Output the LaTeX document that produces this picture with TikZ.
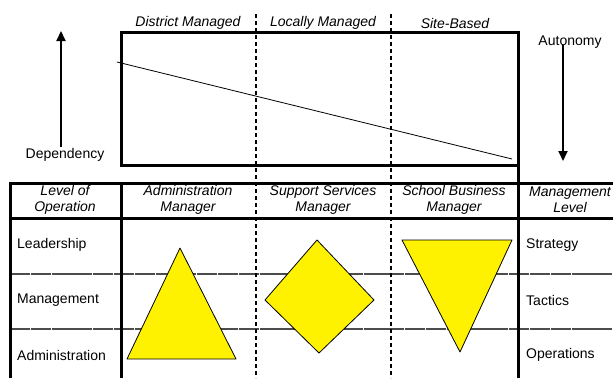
\documentclass[tikz,border=0pt]{standalone}
\usepackage{fontspec}
\setmainfont{Liberation Sans}
\usetikzlibrary{arrows.meta}

\begin{document}
\begin{tikzpicture}[x=1pt,y=-1pt,
    every node/.style={font=\fontsize{14}{16}\selectfont, inner sep=0pt},
    head/.style={font=\fontsize{14}{16}\selectfont\itshape, align=center},
    frame/.style={line width=3pt},
    divider/.style={line width=2pt, dash pattern=on 4pt off 3pt},
    rowline/.style={line width=1.2pt, black!70, dash pattern=on 20pt off 0.8pt},
    bigarrow/.style={line width=2pt, -{Triangle[width=9pt,length=10pt]}},
    yellowshape/.style={draw, fill=yellow, line width=0.8pt, line join=round}]

    \useasboundingbox (0,0) rectangle (613,378);

    % Upper chart
    \draw[frame] (121,32) rectangle (518,165);
    \coordinate (slopeA) at (117,62);
    \coordinate (slopeB) at (512,159);
    \draw[line width=0.8pt] (slopeA) -- (slopeB);

    % Column titles
    \node[head] (district) at (188,23) {District Managed};
    \node[head] (local)    at (323,23) {Locally Managed};
    \node[head] (site)     at (455,23) {Site-Based};

    % Dependency and autonomy arrows
    \node (dep) at (65,155) {Dependency};
    \coordinate (depBase) at (61,147);
    \coordinate (depTop)  at (61,31);
    \draw[bigarrow] (depBase) -- (depTop);

    \node (aut) at (570,42) {Autonomy};
    \coordinate (autTop)  at (563,45);
    \coordinate (autBase) at (563,161);
    \draw[bigarrow] (autTop) -- (autBase);

    % Table
    \draw[rowline] (10,274) -- (613,274);
    \draw[rowline] (10,329) -- (613,329);
    \draw[frame] (10,183) -- (613,183);
    \draw[frame] (10,218) -- (613,218);
    \draw[frame] (10,182) -- (10,378);
    \draw[frame] (121,182) -- (121,378);
    \draw[frame] (518,32) -- (518,378);

    % Table headers
    \node[head] (hLevel)    at (65,200)  {Level of\\Operation};
    \node[head] (hAdmin)    at (188,200) {Administration\\Manager};
    \node[head] (hSupport)  at (323,200) {Support Services\\Manager};
    \node[head] (hBusiness) at (454,200) {School Business\\Manager};
    \node[head] (hMgmt)     at (570,200) {Management\\Level};

    % Row labels
    \foreach \y/\left/\right [count=\i] in {245/Leadership/Strategy,
                                            300/Management/Tactics,
                                            355/Administration/Operations} {
      \node[anchor=west] (r\i) at (17,\y)  {\left};
      \node[anchor=west] (s\i) at (526,\y) {\right};
    }

    % Dashed column dividers
    \foreach \x in {256,391} {
      \draw[divider] (\x,14) -- (\x,378);
    }

    % Shapes
    \draw[yellowshape] (180,248) -- (236,359) -- (127,359) -- cycle;
    \draw[yellowshape] (317,240) -- (374,300) -- (319,353) -- (265,300) -- cycle;
    \draw[yellowshape] (402,240) -- (512,240) -- (460,352) -- cycle;

\end{tikzpicture}
\end{document}
